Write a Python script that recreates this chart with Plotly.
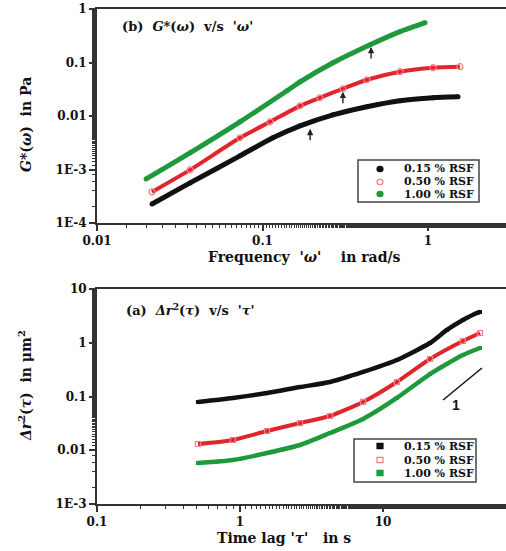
import math
import plotly.graph_objects as go

W, H = 506, 551

# ---------------- panel (b): complex modulus G*(omega) ----------------
omega_015 = [0.0215, 0.0365, 0.0731, 0.1156, 0.1687, 0.2667, 0.4276, 0.678, 1.072, 1.518]
g_015 = [2.27e-4, 5.61e-4, 1.80e-3, 3.91e-3, 6.54e-3, 1.05e-2, 1.49e-2, 1.93e-2, 2.19e-2, 2.29e-2]

omega_050 = [0.0215, 0.0365, 0.0731, 0.111, 0.1687, 0.222, 0.306, 0.4276, 0.678, 1.072, 1.56]
g_050 = [3.81e-4, 9.84e-4, 3.91e-3, 7.78e-3, 1.55e-2, 2.19e-2, 3.23e-2, 4.76e-2, 6.73e-2, 8.0e-2, 8.34e-2]

omega_100 = [0.0198, 0.0365, 0.0731, 0.1406, 0.1687, 0.2667, 0.447, 0.678, 0.96]
g_100 = [6.67e-4, 2.05e-3, 7.78e-3, 2.97e-2, 4.36e-2, 9.9e-2, 0.215, 0.378, 0.556]

# crossover frequencies marked with arrows
arrow_omega = [0.194, 0.306, 0.453]
arrow_g = [5.75e-3, 2.85e-2, 0.195]

# ---------------- panel (a): mean squared displacement ----------------
tau_015 = [0.508, 0.893, 1.545, 2.63, 4.26, 7.25, 12.5, 21.3, 28.0, 36.2, 45.4, 47.7]
msd_015 = [0.0791, 0.0938, 0.116, 0.150, 0.186, 0.286, 0.478, 0.989, 1.73, 2.65, 3.58, 3.73]

tau_050 = [0.508, 0.893, 1.545, 2.63, 4.26, 7.25, 12.5, 21.3, 36.2, 47.7]
msd_050 = [0.01306, 0.01552, 0.0228, 0.0321, 0.0434, 0.0791, 0.186, 0.499, 1.078, 1.52]

tau_100 = [0.508, 0.893, 1.545, 2.63, 4.26, 7.25, 12.5, 21.3, 36.2, 47.7]
msd_100 = [0.00579, 0.00659, 0.00889, 0.01253, 0.0209, 0.0381, 0.0938, 0.262, 0.592, 0.798]

# slope-one guide line (tau, msd end points)
slope_tau = [26.3, 49.2]
slope_msd = [0.086, 0.339]

series_labels = ["0.15 % RSF", "0.50 % RSF", "1.00 % RSF"]

g_tickvals = [1e-4, 1e-3, 1e-2, 1e-1, 1]
g_ticktext = ["1E-4", "1E-3", "0.01", "0.1", "1"]
omega_tickvals = [0.01, 0.1, 1]
omega_ticktext = ["0.01", "0.1", "1"]
msd_tickvals = [1e-3, 1e-2, 1e-1, 1, 10]
msd_ticktext = ["1E-3", "0.01", "0.1", "1", "10"]
tau_tickvals = [0.1, 1, 10]
tau_ticktext = ["0.1", "1", "10"]

BLACK = "#111111"
RED = "#e0262b"
PINK = "#ef7f86"
GREEN = "#1f9a3a"
AXIS = "#333333"
SERIF = "DejaVu Serif"


def px(x):
    return x / W


def py(y):
    return 1 - y / H


fig = go.Figure()

# panel (b) curves
fig.add_trace(go.Scatter(x=omega_015, y=g_015, mode="lines+markers", line=dict(color=BLACK, width=5, shape="spline", smoothing=0.6),
                         marker=dict(symbol="circle", size=5, color=BLACK), xaxis="x", yaxis="y", showlegend=False))
fig.add_trace(go.Scatter(x=omega_050, y=g_050, mode="lines+markers", line=dict(color=RED, width=4, shape="spline", smoothing=0.6),
                         marker=dict(symbol="circle-open", size=6, color=PINK, line=dict(width=1.2)), xaxis="x", yaxis="y", showlegend=False))
fig.add_trace(go.Scatter(x=omega_100, y=g_100, mode="lines+markers", line=dict(color=GREEN, width=5, shape="spline", smoothing=0.6),
                         marker=dict(symbol="circle", size=5, color=GREEN), xaxis="x", yaxis="y", showlegend=False))

# panel (a) curves
fig.add_trace(go.Scatter(x=tau_015, y=msd_015, mode="lines+markers", line=dict(color=BLACK, width=4.5, shape="spline", smoothing=0.6),
                         marker=dict(symbol="square", size=4, color=BLACK), xaxis="x2", yaxis="y2", showlegend=False))
fig.add_trace(go.Scatter(x=tau_050, y=msd_050, mode="lines+markers", line=dict(color=RED, width=4, shape="spline", smoothing=0.6),
                         marker=dict(symbol="square-open", size=5, color=PINK, line=dict(width=1.2)), xaxis="x2", yaxis="y2", showlegend=False))
fig.add_trace(go.Scatter(x=tau_100, y=msd_100, mode="lines+markers", line=dict(color=GREEN, width=4.5, shape="spline", smoothing=0.6),
                         marker=dict(symbol="square", size=4, color=GREEN), xaxis="x2", yaxis="y2", showlegend=False))

tickfont = dict(family=SERIF, size=12, color="#111111", weight="bold")


def log_axis(rng, dom, anchor, tickvals, ticktext, mirror):
    return dict(type="log", range=rng, domain=dom, anchor=anchor, showline=True, linecolor=AXIS, linewidth=2,
                mirror=mirror, ticks="outside", ticklen=6, tickwidth=1.5, tickcolor=AXIS,
                tickvals=tickvals, ticktext=ticktext, tickfont=tickfont, showgrid=False, zeroline=False,
                automargin=False,
                minor=dict(ticks="outside", ticklen=3, tickwidth=1, tickcolor=AXIS, showgrid=False))


top_x_span = (W - 97) / 165.5
bot_x_span = (W - 97) / 143.0

fig.update_layout(
    width=W, height=H, margin=dict(l=0, r=0, t=0, b=0),
    paper_bgcolor="white", plot_bgcolor="white",
    xaxis=log_axis([-2, -2 + top_x_span], [px(97), 1], "y", omega_tickvals, omega_ticktext, True),
    yaxis=log_axis([-4, 0], [py(223), py(9)], "x", g_tickvals, g_ticktext, False),
    xaxis2=log_axis([-1, -1 + bot_x_span], [px(97), 1], "y2", tau_tickvals, tau_ticktext, True),
    yaxis2=log_axis([-3, 1], [py(504), py(289)], "x2", msd_tickvals, msd_ticktext, False),
)

annotations = []
shapes = []

# arrows at the crossover points
for om, gv in zip(arrow_omega, arrow_g):
    annotations.append(dict(x=math.log10(om), y=math.log10(gv), xref="x", yref="y", text="", showarrow=True,
                            ax=0, ay=13, arrowhead=2, arrowsize=0.9, arrowwidth=1.4, arrowcolor="#222222", standoff=0))

# slope-one guide
shapes.append(dict(type="line", xref="x2", yref="y2", x0=slope_tau[0], y0=slope_msd[0], x1=slope_tau[1], y1=slope_msd[1],
                   line=dict(color="#111111", width=1.5)))
annotations.append(dict(x=px(456), y=py(405), xref="paper", yref="paper", text="<b>1</b>", showarrow=False,
                        font=dict(family="Liberation Sans", size=14, color="#111111"), xanchor="center", yanchor="middle"))

title_font = dict(family=SERIF, size=13, color="#111111")

# panel labels
annotations.append(dict(x=px(120), y=py(26), xref="paper", yref="paper", xanchor="left", yanchor="middle", showarrow=False,
                        text="<b>(b)  <i>G*</i>(<i>ω</i>)  v/s  '<i>ω</i>'</b>", font=title_font))
annotations.append(dict(x=px(124), y=py(309), xref="paper", yref="paper", xanchor="left", yanchor="middle", showarrow=False,
                        text="<b>(a)  <i>Δr</i><sup>2</sup>(<i>τ</i>)  v/s  '<i>τ</i>'</b>", font=title_font))

# axis titles
axis_title_font = dict(family=SERIF, size=14, color="#111111")
annotations.append(dict(x=px(304), y=py(257), xref="paper", yref="paper", xanchor="center", yanchor="middle", showarrow=False,
                        text="<b>Frequency  '<i>ω</i>'    in rad/s</b>", font=axis_title_font))
annotations.append(dict(x=px(26), y=py(125), xref="paper", yref="paper", xanchor="center", yanchor="middle", showarrow=False,
                        textangle=-90, text="<b><i>G*</i>(<i>ω</i>)  in Pa</b>", font=axis_title_font))
annotations.append(dict(x=px(284), y=py(538), xref="paper", yref="paper", xanchor="center", yanchor="middle", showarrow=False,
                        text="<b>Time lag '<i>τ</i>'   in s</b>", font=axis_title_font))
annotations.append(dict(x=px(25), y=py(386), xref="paper", yref="paper", xanchor="center", yanchor="middle", showarrow=False,
                        textangle=-90, text="<b><i>Δr</i><sup>2</sup>(<i>τ</i>)  in μm<sup>2</sup></b>", font=axis_title_font))

# legends drawn as boxed keys
legend_font = dict(family=SERIF, size=11, color="#111111")
legend_styles = [(BLACK, BLACK), ("white", PINK), (GREEN, GREEN)]


def add_legend(box, rows, shape_type):
    x0, y0, x1, y1 = box
    shapes.append(dict(type="rect", xref="paper", yref="paper", x0=px(x0), y0=py(y0), x1=px(x1), y1=py(y1),
                       line=dict(color="#444444", width=1.5), fillcolor="rgba(255,255,255,0)"))
    for (fill, edge), row_y, label in zip(legend_styles, rows, series_labels):
        shapes.append(dict(type=shape_type, xref="paper", yref="paper", xsizemode="pixel", ysizemode="pixel",
                           xanchor=px(380), yanchor=py(row_y), x0=-3, x1=3, y0=-2.6, y1=2.6,
                           fillcolor=fill, line=dict(color=edge, width=1.2)))
        annotations.append(dict(x=px(402), y=py(row_y), xref="paper", yref="paper", xanchor="left", yanchor="middle",
                                showarrow=False, text="<b>" + label + "</b>", font=legend_font))


add_legend((358, 160, 479, 202), [169, 182, 194], "circle")
add_legend((354, 439, 476, 482), [446, 460, 473], "rect")

fig.update_layout(annotations=annotations, shapes=shapes)
fig.write_html("out.html")
